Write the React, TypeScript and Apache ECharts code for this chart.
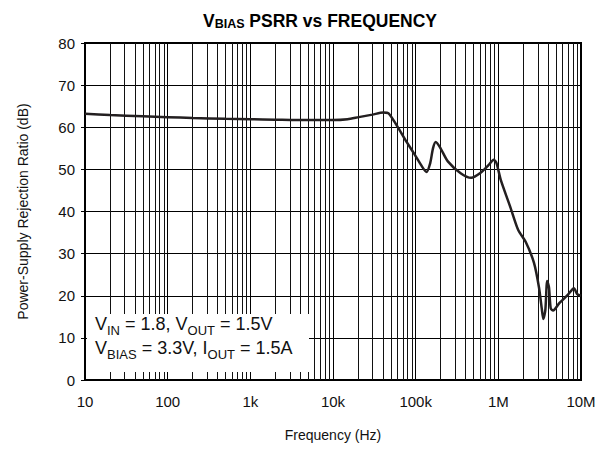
import React, { useEffect, useRef } from "react";
import * as echarts from "echarts";

const freqHz = [
  10, 20, 50, 100, 200, 500, 1000, 2000, 5000, 10000, 15000, 20500, 30000, 40700, 47000,
  60000, 75000, 94600, 120000, 135000, 150000, 162000, 175000, 200000, 245000, 350000,
  470000, 620000, 760000, 880000, 950000, 1070000, 1400000, 1740000, 2140000, 2700000,
  3100000, 3350000, 3500000, 3700000, 3900000, 4100000, 4300000, 4600000, 5500000,
  7000000, 8200000, 9000000, 10000000,
];
const psrrDb = [
  63.2, 62.9, 62.6, 62.4, 62.2, 62.0, 61.9, 61.8, 61.7, 61.7, 61.9, 62.4, 63.0, 63.5, 63.3,
  60.2, 57.0, 53.9, 50.6, 49.4, 51.5, 55.0, 56.5, 55.0, 51.9, 49.1,
  48.0, 49.3, 51.0, 52.3, 51.5, 47.5, 41.0, 35.6, 32.8, 27.8,
  22.0, 17.0, 14.5, 16.5, 23.5, 22.0, 17.0, 16.5, 18.3,
  20.3, 21.8, 20.4, 20.0,
];
const decades = [10, 100, 1000, 10000, 100000, 1000000];
const minorFactors = [2, 3, 4, 5, 6, 7, 8, 9];
const xTickLabels = ["10", "100", "1k", "10k", "100k", "1M", "10M"];

export default function App() {
  const ref = useRef<HTMLDivElement>(null);
  useEffect(() => {
    if (!ref.current) return;
    const chart = echarts.init(ref.current, undefined, { renderer: "svg" });
    const minorLines: any[] = [];
    decades.forEach((d) => minorFactors.forEach((m) => minorLines.push({ xAxis: d * m })));
    const font = "'Liberation Sans', Arial, sans-serif";
    const legendRich = {
      a: { fontFamily: font, fontSize: 18, fill: "#111", verticalAlign: "bottom" },
      b: { fontFamily: font, fontSize: 13, fill: "#111", verticalAlign: "bottom", padding: [0, 0, -4, 0] },
    };
    chart.setOption({
      animation: false,
      title: {
        text: "{v|V}{s|BIAS}{v| PSRR vs FREQUENCY}",
        left: 315,
        textAlign: "center",
        top: 5,
        textStyle: {
          rich: {
            v: { fontFamily: font, fontWeight: "bold", fontSize: 17.5, color: "#000", verticalAlign: "bottom" },
            s: { fontFamily: font, fontWeight: "bold", fontSize: 12.5, color: "#000", padding: [7, 0, 0, 0], verticalAlign: "bottom" },
          },
        },
      },
      grid: { left: 85, right: 27, top: 43, bottom: 73, show: true, borderColor: "#000", borderWidth: 2, backgroundColor: "transparent" },
      xAxis: {
        type: "log",
        logBase: 10,
        min: 10,
        max: 10000000,
        name: "Frequency (Hz)",
        nameLocation: "middle",
        nameGap: 48,
        nameTextStyle: { fontFamily: font, fontSize: 14, color: "#111" },
        axisLine: { lineStyle: { color: "#000", width: 2 } },
        axisTick: { show: false },
        axisLabel: {
          fontFamily: font,
          fontSize: 15,
          color: "#111",
          margin: 14,
          formatter: (v: number) => xTickLabels[Math.round(Math.log10(v)) - 1] ?? "",
        },
        splitLine: { show: true, lineStyle: { color: "#000", width: 1 } },
      },
      yAxis: {
        type: "value",
        min: 0,
        max: 80,
        interval: 10,
        name: "Power-Supply Rejection Ratio (dB)",
        nameLocation: "middle",
        nameGap: 55,
        nameTextStyle: { fontFamily: font, fontSize: 14, color: "#111" },
        axisLine: { show: true, lineStyle: { color: "#000", width: 2 } },
        axisTick: { show: true, length: 4, lineStyle: { color: "#000" } },
        axisLabel: { fontFamily: font, fontSize: 15, color: "#111", margin: 10 },
        splitLine: { show: true, lineStyle: { color: "#000", width: 1 } },
      },
      series: [
        {
          type: "line",
          data: freqHz.map((f, i) => [f, psrrDb[i]]),
          showSymbol: false,
          smooth: 0.25,
          lineStyle: { color: "#231f20", width: 2.5 },
          z: 5,
          markLine: {
            silent: true,
            symbol: "none",
            label: { show: false },
            lineStyle: { color: "#111", width: 1, type: "solid" },
            data: minorLines,
            z: 1,
          },
        },
      ],
      graphic: [
        {
          type: "rect",
          shape: { x: 87, y: 314, width: 222, height: 58 },
          style: { fill: "#fff" },
          z: 10,
        },
        {
          type: "text",
          x: 95,
          y: 315,
          z: 11,
          style: { text: "{a|V}{b|IN}{a| = 1.8, V}{b|OUT}{a| = 1.5V}", rich: legendRich },
        },
        {
          type: "text",
          x: 95,
          y: 339,
          z: 11,
          style: { text: "{a|V}{b|BIAS}{a| = 3.3V, I}{b|OUT}{a| = 1.5A}", rich: legendRich },
        },
      ],
    });
    return () => chart.dispose();
  }, []);
  return <div ref={ref} style={{ width: 608, height: 453, position: "absolute", left: 0, top: 0, background: "#fff" }} />;
}
